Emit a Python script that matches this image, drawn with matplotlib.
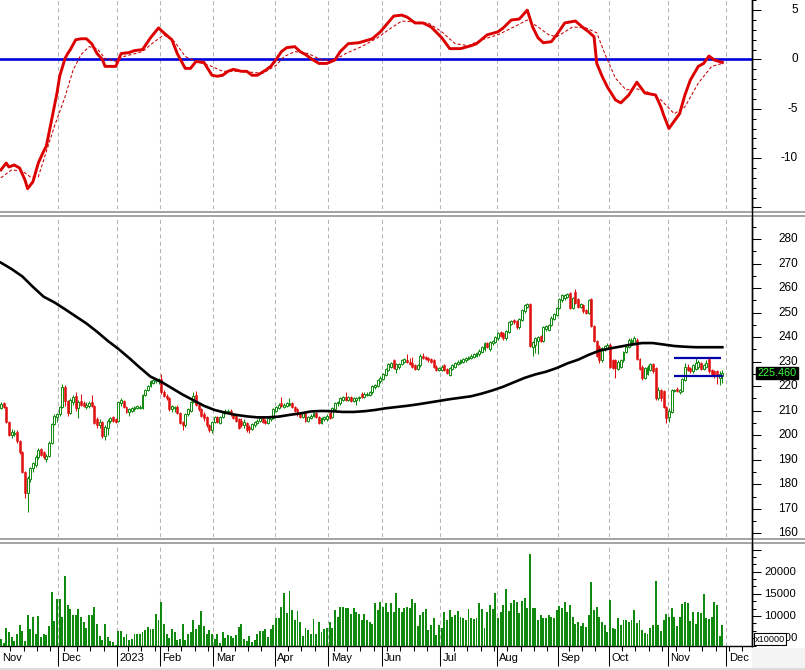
import matplotlib
matplotlib.use('Agg')
import matplotlib.pyplot as plt
import matplotlib.transforms as mtransforms
from matplotlib.lines import Line2D
from matplotlib.patches import Rectangle
from matplotlib.ticker import MultipleLocator, FixedLocator
import numpy as np
import pandas as pd

plt.rcParams['font.family'] = ['Liberation Sans', 'DejaVu Sans']

# ---------------- data ----------------
holidays = ['2023-01-02', '2023-01-20', '2023-01-23', '2023-01-24', '2023-01-25',
            '2023-01-26', '2023-05-01', '2023-05-02', '2023-05-03', '2023-09-01', '2023-09-04']
first_day = '2022-11-01'
axis_last_day = '2023-12-29'

opens = [211.0, 213.0, 211.5, 205.5, 200.0, 200.5, 201.5, 197.5, 193.0, 185.0,
         176.5, 182.0, 186.5, 188.0, 191.0, 194.5, 193.0, 190.5, 191.5, 197.0,
         204.5, 207.5, 208.5, 211.5, 219.5, 214.0, 209.0, 213.5, 216.0, 211.0,
         214.0, 213.0, 211.5, 212.0, 213.5, 212.0, 206.5, 204.0, 205.5, 199.5,
         203.0, 206.0, 207.5, 206.5, 206.0, 213.0, 214.0, 211.5, 209.5, 210.0,
         210.5, 211.0, 211.0, 211.0, 216.5, 218.5, 220.0, 221.5, 222.0, 222.0,
         223.0, 217.5, 216.0, 215.0, 210.5, 211.0, 211.5, 209.0, 205.5, 204.0,
         208.5, 210.0, 213.5, 216.5, 212.5, 210.5, 208.5, 207.5, 204.0, 202.0,
         205.5, 207.5, 205.0, 207.5, 209.0, 209.5, 210.0, 208.5, 208.0, 206.5,
         206.0, 204.0, 205.0, 203.5, 202.5, 204.0, 205.0, 206.0, 207.5, 206.0,
         205.0, 206.5, 207.0, 210.0, 211.0, 213.0, 211.5, 212.0, 212.5, 213.0,
         211.5, 210.5, 209.0, 207.5, 209.0, 206.0, 207.0, 208.0, 209.0, 207.5,
         205.0, 206.5, 206.5, 209.0, 207.5, 210.5, 213.0, 213.0, 214.5, 215.5,
         214.5, 215.5, 214.0, 214.5, 215.0, 217.0, 215.5, 216.5, 216.5, 217.5,
         219.5, 220.0, 222.0, 223.0, 224.5, 226.5, 228.0, 230.5, 227.0, 228.0,
         229.0, 230.0, 230.5, 230.0, 229.5, 228.5, 227.0, 228.5, 232.5, 232.0,
         231.5, 231.0, 230.5, 228.0, 226.5, 226.5, 228.5, 227.0, 224.5, 227.0,
         228.0, 229.0, 229.5, 230.0, 230.5, 231.0, 231.5, 232.0, 232.5, 233.0,
         234.0, 235.0, 237.5, 235.0, 237.5, 238.0, 239.5, 242.0, 241.5, 239.5,
         242.0, 245.5, 247.0, 246.5, 244.0, 247.0, 250.5, 252.5, 253.5, 236.0,
         237.0, 238.5, 240.5, 238.5, 243.5, 243.0, 245.0, 247.5, 249.0, 252.0,
         255.0, 256.0, 256.5, 258.0, 252.0, 258.5, 255.5, 252.5, 253.0, 251.0,
         250.0, 255.5, 244.5, 238.5, 236.0, 230.5, 235.0, 235.5, 237.0, 230.5,
         230.5, 227.0, 228.0, 230.5, 234.0, 236.0, 237.0, 237.5, 239.0, 231.0,
         228.0, 223.5, 225.0, 226.5, 229.0, 227.5, 215.0, 218.5, 218.0, 211.5,
         207.5, 209.5, 218.0, 219.0, 217.5, 218.0, 222.5, 228.0, 227.5, 226.0,
         227.0, 228.0, 229.5, 227.0, 228.0, 231.0, 226.5, 226.0, 226.0, 223.5,
         224.0]

highs = [213.5, 213.5, 212.0, 206.0, 202.5, 202.0, 202.0, 198.0, 193.5, 185.5,
         183.5, 187.0, 189.0, 192.0, 195.0, 195.0, 193.5, 192.5, 197.5, 205.0,
         208.5, 209.0, 212.0, 221.0, 220.5, 214.5, 215.0, 216.5, 217.5, 214.5,
         217.0, 214.0, 213.5, 214.0, 216.5, 212.5, 207.5, 206.5, 206.0, 204.0,
         206.5, 207.5, 208.0, 207.0, 214.0, 215.0, 214.5, 212.0, 211.0, 211.5,
         212.0, 212.5, 212.5, 217.0, 219.0, 220.5, 222.5, 223.0, 223.0, 223.5,
         225.0, 218.5, 217.0, 215.5, 212.5, 212.0, 212.5, 209.5, 206.0, 209.0,
         211.0, 214.0, 217.5, 218.0, 213.0, 211.0, 209.5, 208.0, 204.5, 206.0,
         208.0, 208.0, 208.0, 209.5, 210.5, 210.5, 210.5, 209.0, 208.5, 207.0,
         207.0, 206.5, 205.5, 204.0, 205.0, 206.0, 206.5, 207.5, 208.0, 206.5,
         207.5, 208.0, 211.0, 212.0, 213.0, 215.5, 213.0, 213.5, 215.0, 213.5,
         212.0, 211.0, 209.5, 209.5, 209.5, 208.0, 208.5, 209.5, 209.5, 208.0,
         207.5, 208.0, 208.5, 209.5, 211.5, 213.5, 214.0, 215.5, 216.0, 217.5,
         216.0, 216.0, 215.5, 215.5, 216.0, 217.5, 217.5, 217.5, 218.0, 220.5,
         221.0, 223.0, 224.0, 225.5, 227.5, 229.5, 230.0, 231.0, 229.5, 229.5,
         231.0, 231.5, 233.0, 231.5, 232.0, 229.0, 229.0, 233.0, 233.5, 232.5,
         232.0, 231.5, 231.0, 228.5, 228.0, 228.5, 229.0, 227.5, 228.0, 229.0,
         230.0, 230.5, 231.0, 231.5, 232.0, 232.5, 233.0, 233.5, 234.0, 235.0,
         236.5, 238.0, 238.0, 238.5, 239.0, 240.5, 242.0, 242.5, 242.0, 243.0,
         246.5, 247.0, 247.5, 247.0, 248.0, 251.5, 253.5, 254.0, 254.0, 238.5,
         240.0, 240.5, 241.0, 244.5, 245.0, 245.5, 248.5, 250.0, 252.5, 256.0,
         257.5, 257.5, 258.0, 258.5, 256.5, 259.5, 256.0, 254.0, 253.5, 251.5,
         255.5, 256.0, 245.0, 239.0, 237.0, 236.0, 237.0, 237.5, 237.5, 231.0,
         231.0, 230.5, 231.0, 234.5, 236.5, 239.5, 239.5, 240.5, 239.5, 231.5,
         228.5, 228.0, 228.5, 229.5, 229.5, 228.0, 219.5, 219.0, 218.5, 212.0,
         211.0, 219.0, 219.0, 219.5, 219.0, 223.5, 229.5, 229.0, 228.0, 229.0,
         232.0, 230.5, 230.0, 229.0, 230.5, 231.5, 227.0, 226.5, 226.5, 226.0,
         226.5]

lows = [210.5, 211.0, 205.0, 199.5, 199.0, 199.5, 197.0, 192.5, 184.5, 174.5,
        168.5, 181.0, 185.0, 187.0, 190.5, 191.5, 190.5, 189.0, 191.0, 196.5,
        204.0, 205.5, 208.0, 211.0, 212.0, 208.0, 208.5, 212.5, 210.0, 207.0,
        212.0, 211.5, 210.5, 211.0, 211.5, 204.5, 203.0, 203.0, 199.0, 198.0,
        200.0, 205.0, 205.5, 205.0, 205.5, 212.0, 211.0, 209.0, 208.0, 209.5,
        210.0, 210.5, 210.5, 210.5, 216.0, 218.0, 219.5, 221.0, 221.5, 221.0,
        217.0, 215.5, 214.5, 210.0, 209.5, 209.5, 208.5, 204.5, 202.0, 203.5,
        208.0, 209.5, 213.0, 212.0, 210.0, 207.5, 206.0, 203.5, 201.5, 201.0,
        205.0, 205.0, 204.5, 207.0, 208.5, 209.0, 208.0, 206.5, 205.5, 202.5,
        203.5, 203.0, 201.5, 201.0, 202.0, 203.5, 204.5, 205.5, 205.0, 204.5,
        204.5, 206.0, 206.5, 209.5, 210.5, 211.5, 211.0, 211.5, 212.0, 211.0,
        209.5, 208.0, 207.0, 207.0, 205.5, 205.5, 206.5, 207.5, 207.0, 204.5,
        204.5, 206.0, 206.0, 206.5, 207.0, 210.0, 212.0, 212.5, 214.0, 214.0,
        214.0, 213.5, 213.5, 212.5, 214.0, 215.0, 215.0, 216.0, 216.0, 217.0,
        219.0, 219.5, 221.5, 222.5, 224.0, 226.0, 227.5, 227.0, 225.5, 227.0,
        228.5, 229.5, 229.5, 228.5, 227.5, 226.5, 226.5, 228.0, 231.0, 230.5,
        230.0, 229.5, 227.5, 226.0, 226.0, 226.0, 226.0, 225.0, 224.0, 226.5,
        227.5, 228.5, 229.0, 229.5, 230.0, 230.5, 231.0, 231.5, 232.0, 232.5,
        233.5, 234.5, 235.5, 234.5, 237.0, 237.5, 239.0, 240.0, 239.0, 239.0,
        241.5, 245.0, 245.5, 243.5, 243.5, 246.5, 250.0, 252.0, 236.0, 232.5,
        233.5, 233.0, 238.0, 238.0, 242.5, 242.5, 244.5, 247.0, 248.5, 251.5,
        254.5, 255.0, 256.0, 251.5, 251.5, 253.5, 252.0, 252.0, 250.0, 249.5,
        249.5, 244.0, 238.0, 232.0, 229.5, 230.0, 234.5, 235.0, 227.5, 227.0,
        223.5, 226.5, 227.5, 230.0, 233.5, 235.5, 236.5, 237.0, 230.5, 226.5,
        222.5, 223.0, 224.5, 226.0, 225.5, 214.5, 214.5, 214.0, 211.0, 205.0,
        205.5, 209.0, 217.5, 217.5, 217.0, 217.5, 222.0, 226.0, 225.5, 225.5,
        226.5, 227.0, 226.5, 226.5, 227.5, 225.5, 224.5, 223.5, 221.0, 220.5,
        221.5]

closes = [212.8, 211.5, 205.5, 200.0, 201.5, 201.0, 197.5, 193.0, 185.0, 176.5,
          182.5, 186.5, 188.5, 191.0, 194.0, 192.0, 191.0, 191.5, 197.0, 204.5,
          208.0, 208.5, 211.5, 219.5, 214.0, 209.0, 214.5, 215.5, 211.0, 213.5,
          212.5, 212.0, 212.5, 213.0, 212.0, 205.0, 204.0, 205.5, 199.5, 203.5,
          206.0, 207.0, 206.0, 205.5, 213.5, 214.5, 211.5, 209.5, 210.5, 211.0,
          211.5, 212.0, 211.5, 216.5, 218.5, 220.0, 222.0, 222.5, 222.5, 223.0,
          217.5, 216.0, 215.0, 210.5, 212.0, 211.5, 209.0, 205.0, 204.0, 208.5,
          210.5, 213.5, 216.0, 212.5, 210.5, 208.0, 207.0, 204.0, 202.0, 205.5,
          207.5, 205.5, 207.5, 209.0, 210.0, 210.0, 208.5, 207.0, 206.0, 203.0,
          204.0, 205.5, 202.0, 202.5, 204.5, 205.5, 206.0, 207.0, 205.5, 205.0,
          207.0, 207.5, 210.5, 211.5, 212.5, 212.0, 212.5, 213.0, 213.0, 211.5,
          210.0, 208.5, 207.5, 209.0, 206.0, 207.5, 208.0, 209.0, 207.5, 205.0,
          207.0, 207.5, 208.0, 207.0, 211.0, 213.0, 213.5, 215.0, 215.5, 214.5,
          215.5, 214.0, 215.0, 215.0, 215.5, 215.5, 217.0, 217.0, 217.5, 220.0,
          220.5, 222.5, 223.5, 225.0, 227.0, 229.0, 229.5, 227.5, 229.0, 229.0,
          230.5, 231.0, 230.0, 229.0, 228.0, 227.0, 228.5, 232.5, 231.5, 231.0,
          230.5, 230.0, 228.0, 226.5, 227.5, 228.0, 226.5, 225.5, 227.5, 228.5,
          229.5, 230.0, 230.5, 231.0, 231.5, 232.0, 232.5, 233.0, 233.5, 234.5,
          236.0, 237.5, 236.0, 238.0, 238.5, 240.0, 241.5, 240.5, 239.5, 242.5,
          246.0, 246.5, 246.0, 244.0, 247.5, 251.0, 253.0, 253.5, 236.5, 238.0,
          239.5, 240.0, 238.5, 244.0, 244.5, 245.0, 248.0, 249.5, 252.0, 255.5,
          257.0, 257.0, 257.5, 252.0, 256.0, 254.0, 252.5, 253.5, 250.5, 250.0,
          255.0, 244.5, 238.5, 232.5, 230.5, 235.5, 236.5, 237.0, 228.0, 227.5,
          227.5, 230.0, 230.5, 234.0, 236.0, 239.0, 239.0, 239.5, 231.0, 227.0,
          223.5, 227.5, 228.0, 229.0, 226.0, 215.0, 218.5, 215.0, 211.5, 207.0,
          210.0, 218.5, 218.5, 218.0, 218.5, 223.0, 228.0, 226.5, 226.0, 228.5,
          229.5, 230.0, 227.0, 228.5, 229.5, 226.0, 225.0, 224.0, 224.0, 225.0,
          225.46]

volumes = [4700, 4000, 7200, 6300, 5300, 4400, 5900, 8000, 6700, 4400, 10200,
           7100, 9800, 5900, 10000, 5300, 5900, 5700, 7700, 15500, 8900,
           13800, 13800, 9800, 19000, 12500, 11500, 10200, 10200, 11500, 9700, 8700,
           7200, 10200, 10200, 12000, 8300, 5500, 4600, 8200, 5300, 4400,
           4200, 3500, 6700, 6700, 5300, 5900, 4600, 4800, 5900, 5900,
           5900, 6500, 6800, 7600, 7100, 7100, 10500, 9100, 13100, 8200,
           5900, 5000, 7000, 6300, 4600, 4800, 8200, 4600, 5900, 6500,
           9100, 7000, 8000, 11100, 7800, 5900, 6800, 5900, 4800, 5900,
           4000, 6500, 5000, 5700, 5500, 5000, 5700, 7600, 8200, 4700,
           4400, 5500, 4200, 4600, 5900, 6700, 6700, 7000, 5300, 7100,
           7900, 9500, 9500, 12100, 15300, 10600, 15600, 11400, 9100, 11100,
           8600, 5500, 7400, 6800, 5900, 9300, 5900, 8700, 6300, 7000,
           7200, 8700, 7200, 11400, 9700, 12000, 12000, 11700, 11700, 10500,
           11700, 10800, 10500, 9200, 10500, 9100, 8700, 8200, 13000, 11400,
           13100, 12000, 13000, 11000, 13000, 11000, 15300, 11700,
           10800, 11700, 12100, 11700, 13800, 13000, 7700, 10200, 11000, 11500,
           6800, 8000, 9500, 5700, 8000, 7400, 11000, 9100, 11400, 9700,
           10200, 11200, 9800, 9500, 9100, 11500, 9600, 9300, 9500,
           13000, 11500, 7400, 11000, 12500, 11500, 15100, 9500, 11000, 12500,
           16100, 11100, 13000, 13500, 13200, 10600, 13400, 14000, 11700, 24100,
           11900, 11700, 9100, 10200, 9600, 9500, 10200, 9800, 9500, 11400,
           12300, 11700, 13100, 11000, 12500, 9800, 8300, 8700, 7700, 8500,
           7600, 10200, 17600, 11400, 12100, 9800, 8700, 8000, 6500, 13600,
           7400, 7000, 9500, 8000, 9100, 9100, 8700, 9100, 11400, 8500,
           9200, 6800, 6200, 5900, 7200, 8000, 18000, 8000, 6600, 9000, 10500,
           9800, 11700, 9700, 7700, 9800, 12700, 13200, 12900, 8800, 11000, 8300,
           11000, 10600, 15000, 9500, 9300, 9800, 13200, 12500, 5500, 8000]

ma200_days = [0, 4, 8, 12, 16, 20, 24, 28, 32, 36, 40, 44, 48, 52, 56, 60, 64, 68, 72, 76,
              80, 84, 88, 92, 96, 100, 104, 108, 112, 116, 120, 124, 128, 132, 136, 140,
              144, 148, 152, 156, 160, 164, 168, 172, 176, 180, 184, 188, 192, 196, 200,
              204, 208, 212, 216, 220, 224, 228, 232, 236, 240, 244, 248, 252, 256, 260,
              264, 270]
ma200_vals = [270.4, 267.8, 264.8, 260.5, 256.5, 254.2, 251.4, 248.5, 245.6, 242.2,
              238.5, 235.2, 231.5, 227.6, 223.9, 221.8, 219.2, 216.6, 214.3, 212.0,
              210.3, 209.2, 208.3, 207.7, 207.3, 207.3, 207.6, 208.3, 208.9, 209.7,
              209.9, 209.8, 209.5, 209.5, 209.8, 210.3, 211.0, 211.5, 212.0, 212.6,
              213.3, 214.0, 214.7, 215.3, 215.9, 217.0, 218.3, 219.8, 221.6, 223.4,
              224.8, 225.9, 227.4, 229.3, 230.8, 232.8, 234.5, 235.4, 236.2, 237.0,
              237.6, 237.6, 237.0, 236.4, 236.1, 235.9, 235.9, 235.9]

macd_days = [0, 2, 3, 5, 7, 9, 10, 12, 14, 16, 17, 19, 21, 22, 24, 25, 26, 28, 30, 32,
             34, 36, 38, 39, 43, 45, 48, 50, 53, 56, 59, 61, 64, 66, 69, 71, 73, 76, 79, 81,
             83, 85, 87, 90, 92, 94, 96, 99, 101, 103, 105, 107, 110, 112, 114, 116, 119, 122, 125, 127,
             130, 134, 139, 142, 147, 150, 152, 155, 158, 161, 165, 168, 172, 176, 178, 182, 186, 188, 191, 194,
             197, 199, 201, 203, 206, 208, 211, 215, 218, 220, 222, 223, 225, 227, 230, 232, 235, 238, 241, 245,
             247, 248, 250, 254, 256, 258, 261, 263, 265, 267, 270]
macd_vals = [-11.2, -10.5, -10.9, -10.7, -11.0, -12.2, -13.1, -12.4, -10.5, -9.3, -8.8, -6.1, -3.4, -1.7, 0.1, 0.6, 1.0, 2.0, 2.1, 2.1,
             1.6, 0.6, 0.0, -0.7, -0.7, 0.6, 0.7, 0.9, 1.0, 2.2, 3.2, 2.7, 2.0, 0.6, -0.9, -0.9, -0.2, -0.3, -1.6, -1.7,
             -1.6, -1.2, -1.0, -1.2, -1.2, -1.6, -1.6, -1.1, -0.7, 0.0, 0.8, 1.2, 1.3, 0.8, 0.5, 0.1, -0.4, -0.4, -0.05, 0.8,
             1.6, 1.7, 2.1, 2.8, 4.4, 4.5, 4.3, 3.7, 3.7, 3.3, 2.2, 1.1, 1.1, 1.4, 1.6, 2.5, 2.8, 3.2, 4.0, 4.1,
             5.0, 3.3, 2.2, 1.7, 1.8, 2.5, 3.7, 3.9, 3.2, 2.8, 2.3, -0.4, -1.7, -2.8, -4.1, -4.4, -3.6, -2.3, -3.4, -3.6,
             -4.8, -5.6, -7.0, -5.5, -3.6, -2.1, -0.7, -0.4, 0.35, -0.05, -0.3]

signal_days = [0, 4, 8, 11, 14, 16, 20, 24, 27, 30, 33, 36, 39, 43, 46, 53, 56, 61, 65, 69,
               73, 78, 83, 90, 98, 103, 106, 110, 115, 120, 125, 129, 135, 141, 145, 150, 155, 160, 165, 170,
               175, 180, 186, 192, 197, 201, 205, 208, 214, 219, 223, 226, 230, 234, 237, 242, 247, 252, 256, 261,
               266, 270]
signal_vals = [-12.0, -11.2, -11.3, -11.9, -11.9, -10.2, -6.8, -3.8, -1.1, 0.5, 1.3, 1.1, 0.1, -0.2, 0.3, 0.8, 1.5, 2.5, 1.8, 0.3,
               -0.2, -0.6, -1.2, -1.2, -1.4, -0.6, 0.3, 0.8, 0.6, -0.05, -0.05, 0.6, 1.3, 2.2, 3.0, 3.9, 3.8, 3.7, 2.8, 1.6,
               1.4, 2.0, 2.5, 3.3, 4.0, 3.3, 2.5, 2.3, 3.3, 3.2, 2.7, 0.6, -1.9, -3.1, -2.9, -3.3, -4.1, -5.5, -4.8, -2.4,
               -0.7, -0.4]

channel_levels = [231.5, 224.2]
channel_from = [252, 252]
channel_to = [269.4, 270.3]
last_price_label = '225.460'

macd_labels = [5, 0, -5, -10]
price_labels = [160, 170, 180, 190, 200, 210, 220, 230, 240, 250, 260, 270, 280]
volume_labels = [10000, 15000, 20000]
volume_hidden_label = 5000
volume_unit = 'x10000'
month_names = ['Jan', 'Feb', 'Mar', 'Apr', 'May', 'Jun', 'Jul', 'Aug', 'Sep', 'Oct', 'Nov', 'Dec']

# ---------------- derived ----------------
o = np.array(opens); h = np.array(highs); l = np.array(lows); c = np.array(closes)
vol = np.array(volumes)
n = len(c)
assert len(o) == len(h) == len(l) == n == len(vol), (len(o), len(h), len(l), n, len(vol))
x = np.arange(n)

days = pd.bdate_range(first_day, axis_last_day)
days = days[~days.isin(pd.to_datetime(holidays))]
month_starts = [i for i in range(len(days)) if i == 0 or days[i].month != days[i - 1].month]
week_starts = [i for i in range(1, len(days)) if days[i].weekday() < days[i - 1].weekday()]

# ---------------- figure ----------------
W, H = 805, 670
AXW = 752
XMIN, XMAX = -0.33, 281.1
GREEN = '#0f8a0f'
RED = '#e01010'

fig = plt.figure(figsize=(W / 100, H / 100), dpi=100)
fig.patch.set_facecolor('white')


def add_panel(top, bottom):
    ax = fig.add_axes([0, 1 - bottom / H, AXW / W, (bottom - top) / H])
    for s in ['left', 'top', 'bottom']:
        ax.spines[s].set_visible(False)
    ax.spines['right'].set_linewidth(1.0)
    ax.spines['right'].set_color('black')
    ax.yaxis.tick_right()
    ax.tick_params(axis='y', which='major', length=6.5, width=0.75, labelright=False, colors='black')
    ax.tick_params(axis='y', which='minor', length=3.0, width=0.75)
    ax.tick_params(axis='x', which='both', bottom=False, labelbottom=False)
    ax.set_xlim(XMIN, XMAX)
    ax.set_facecolor('white')
    for b in month_starts[1:]:
        ax.axvline(b - 0.5, color='#b4b4b4', lw=0.75, ls=(0, (4, 3)), zorder=0.5)
    return ax


ax1 = add_panel(0, 209)
ax1.set_ylim(-15.16, 6.03)
ax2 = add_panel(218, 537)
ax2.set_ylim(158.5, 288.6)
ax3 = add_panel(544, 646)
ax3.set_ylim(3230, 26250)

# separators
for ypx in [211.5, 216.5, 539.0, 543.0]:
    fig.add_artist(Line2D([0, 1], [1 - ypx / H] * 2, transform=fig.transFigure,
                          color='#8a8a8a', lw=1.1))
fig.add_artist(Line2D([AXW / W] * 2, [1 - 646 / H, 1], transform=fig.transFigure,
                      color='black', lw=1.0))
fig.add_artist(Rectangle((AXW / W, 0), 1 - AXW / W, 22 / H, transform=fig.transFigure,
                         facecolor='#f3f3f3', edgecolor='none', zorder=-1))
fig.add_artist(Rectangle((0, 0), 1, 2.5 / H, transform=fig.transFigure,
                         facecolor='#dcdcdc', edgecolor='none'))

# ---- top panel: oscillator ----
ax1.yaxis.set_major_locator(FixedLocator([-15, -10, -5, 0, 5]))
ax1.yaxis.set_minor_locator(MultipleLocator(1))
ax1.axhline(0, color='#0000dd', lw=1.9, zorder=2)
ax1.plot(signal_days, signal_vals, color='#c80000', lw=0.75, ls=(0, (3, 2)), zorder=3)
ax1.plot(macd_days, macd_vals, color='#dd0000', lw=2.1, zorder=4, solid_joinstyle='round')

# ---- middle panel: candles ----
ax2.yaxis.set_major_locator(MultipleLocator(10))
ax2.yaxis.set_minor_locator(MultipleLocator(5))
up = c >= o
ax2.vlines(x[up], l[up], h[up], color=GREEN, lw=0.75, zorder=3)
ax2.vlines(x[~up], l[~up], h[~up], color=RED, lw=0.75, zorder=3)
ax2.bar(x[up], np.maximum(c - o, 0.3)[up], bottom=o[up], width=0.72,
        facecolor='white', edgecolor=GREEN, linewidth=0.7, zorder=4)
ax2.bar(x[~up], (o - c)[~up], bottom=c[~up], width=0.72,
        facecolor=RED, edgecolor=RED, linewidth=0.4, zorder=4)
ax2.plot(ma200_days, ma200_vals, color='black', lw=1.9, zorder=5)
for lev, a, b in zip(channel_levels, channel_from, channel_to):
    ax2.hlines(lev, a, b, color='#0000aa', lw=1.6, zorder=6)

# ---- bottom panel: volume ----
ax3.yaxis.set_major_locator(MultipleLocator(5000))
ax3.yaxis.set_minor_locator(MultipleLocator(5000 / 3))
ax3.bar(x, vol, width=0.72, color=GREEN, zorder=3)
ax3.spines['bottom'].set_visible(True)
ax3.spines['bottom'].set_color('black')
ax3.spines['bottom'].set_linewidth(1.0)
ax3.xaxis.set_major_locator(FixedLocator([b - 0.5 for b in month_starts]))
ax3.xaxis.set_minor_locator(FixedLocator([w - 0.5 for w in week_starts]))
ax3.tick_params(axis='x', which='major', bottom=True, length=14.4, width=0.75, labelbottom=False)
ax3.tick_params(axis='x', which='minor', bottom=True, length=3.6, width=0.75)

# ---- right-side labels ----
def rlabel(ax, v, s, xpx, ha, fs=8.5, **kw):
    tr = mtransforms.blended_transform_factory(ax.transAxes, ax.transData)
    return ax.text(xpx / AXW, v, s, transform=tr, ha=ha, va='center', fontsize=fs,
                   clip_on=False, color='black', **kw)

for v in macd_labels:
    rlabel(ax1, v, str(v), 798, 'right')
for v in price_labels:
    rlabel(ax2, v, str(v), 798, 'right')
narrow = ['Liberation Sans Narrow', 'Liberation Sans', 'DejaVu Sans']
for v in volume_labels:
    rlabel(ax3, v, str(v), 764, 'left', fs=8.2, family=narrow)
rlabel(ax3, volume_hidden_label, str(volume_hidden_label), 798, 'right', fs=8.2, family=narrow)

rlabel(ax2, c[-1], last_price_label, 757.5, 'left', fs=7.8, zorder=20,
       bbox=dict(boxstyle='square,pad=0.12', fc='black', ec='black')).set_color('#3cff3c')

fig.text(755 / W, 1 - 639 / H, volume_unit, ha='left', va='center', fontsize=6.6,
         bbox=dict(boxstyle='square,pad=0.12', fc='white', ec='black', lw=0.8))

# ---- month labels ----
off = mtransforms.ScaledTranslation(2.5 / 100, 0, fig.dpi_scale_trans)
trm = mtransforms.blended_transform_factory(ax3.transData, ax3.transAxes) + off
for b in month_starts:
    d = days[b]
    lab = str(d.year) if d.month == 1 else month_names[d.month - 1]
    ax3.text(b - 0.5, -0.118, lab, transform=trm, ha='left', va='center',
             fontsize=8, clip_on=False)

fig.savefig('out.png', dpi=100, facecolor='white')
